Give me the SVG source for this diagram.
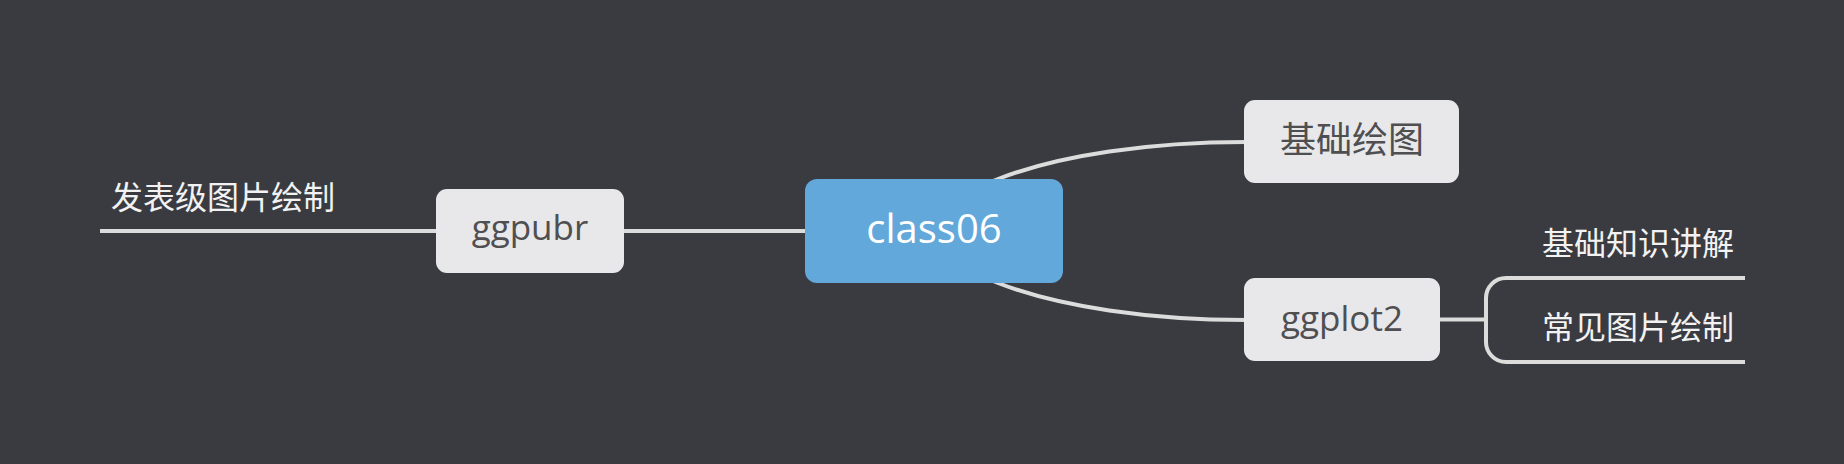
<svg xmlns="http://www.w3.org/2000/svg" width="1844" height="464" viewBox="0 0 1844 464">
<style>
.bg{fill:#3a3b41}
.conn{fill:none;stroke:#dcdcdc;stroke-width:4}
.box{fill:#e8e8ea}
.central{fill:#63a8da}
.lat{font-family:"Open Sans","Liberation Sans",sans-serif;text-anchor:middle}
.cjk{font-family:"Noto Sans CJK SC","Noto Sans",sans-serif}
.dark{fill:#4f4f52}
.light{fill:#f2f2f2}
</style>
<rect class="bg" x="0" y="0" width="1844" height="464"/>
<g id="connectors">
<path class="conn" d="M 100 231 L 805 231"/>
<path class="conn" d="M 988 183 L 998 179 C 1060 155 1150 142 1246 142"/>
<path class="conn" d="M 988 279 L 998 283 C 1060 307 1150 320 1246 320"/>
<path class="conn" d="M 1438 319.5 L 1486 319.5"/>
<path class="conn" d="M 1745 278 L 1506 278 A 20 20 0 0 0 1486 298 L 1486 342 A 20 20 0 0 0 1506 362 L 1745 362"/>
</g>
<g id="node-class06">
<rect class="central" x="805" y="179" width="258" height="104" rx="12"/>
<text class="lat" x="934" y="243" font-size="40" fill="#ffffff">class06</text>
</g>
<g id="node-jichuhuitu">
<rect class="box" x="1244" y="100" width="215" height="83" rx="11"/>
<text class="cjk dark" x="1352" y="152.5" font-size="36" text-anchor="middle">基础绘图</text>
</g>
<g id="node-ggplot2">
<rect class="box" x="1244" y="278" width="196" height="83" rx="11"/>
<text class="lat dark" x="1342" y="331" font-size="35">ggplot2</text>
</g>
<g id="node-ggpubr">
<rect class="box" x="436" y="189" width="188" height="84" rx="11"/>
<text class="lat dark" x="530" y="240" font-size="35">ggpubr</text>
</g>
<g id="node-fabiao">
<text class="cjk light" x="111" y="209" font-size="32">发表级图片绘制</text>
</g>
<g id="node-jichuzhishi">
<text class="cjk light" x="1542" y="255" font-size="32">基础知识讲解</text>
</g>
<g id="node-changjian">
<text class="cjk light" x="1542" y="339" font-size="32">常见图片绘制</text>
</g>
</svg>
